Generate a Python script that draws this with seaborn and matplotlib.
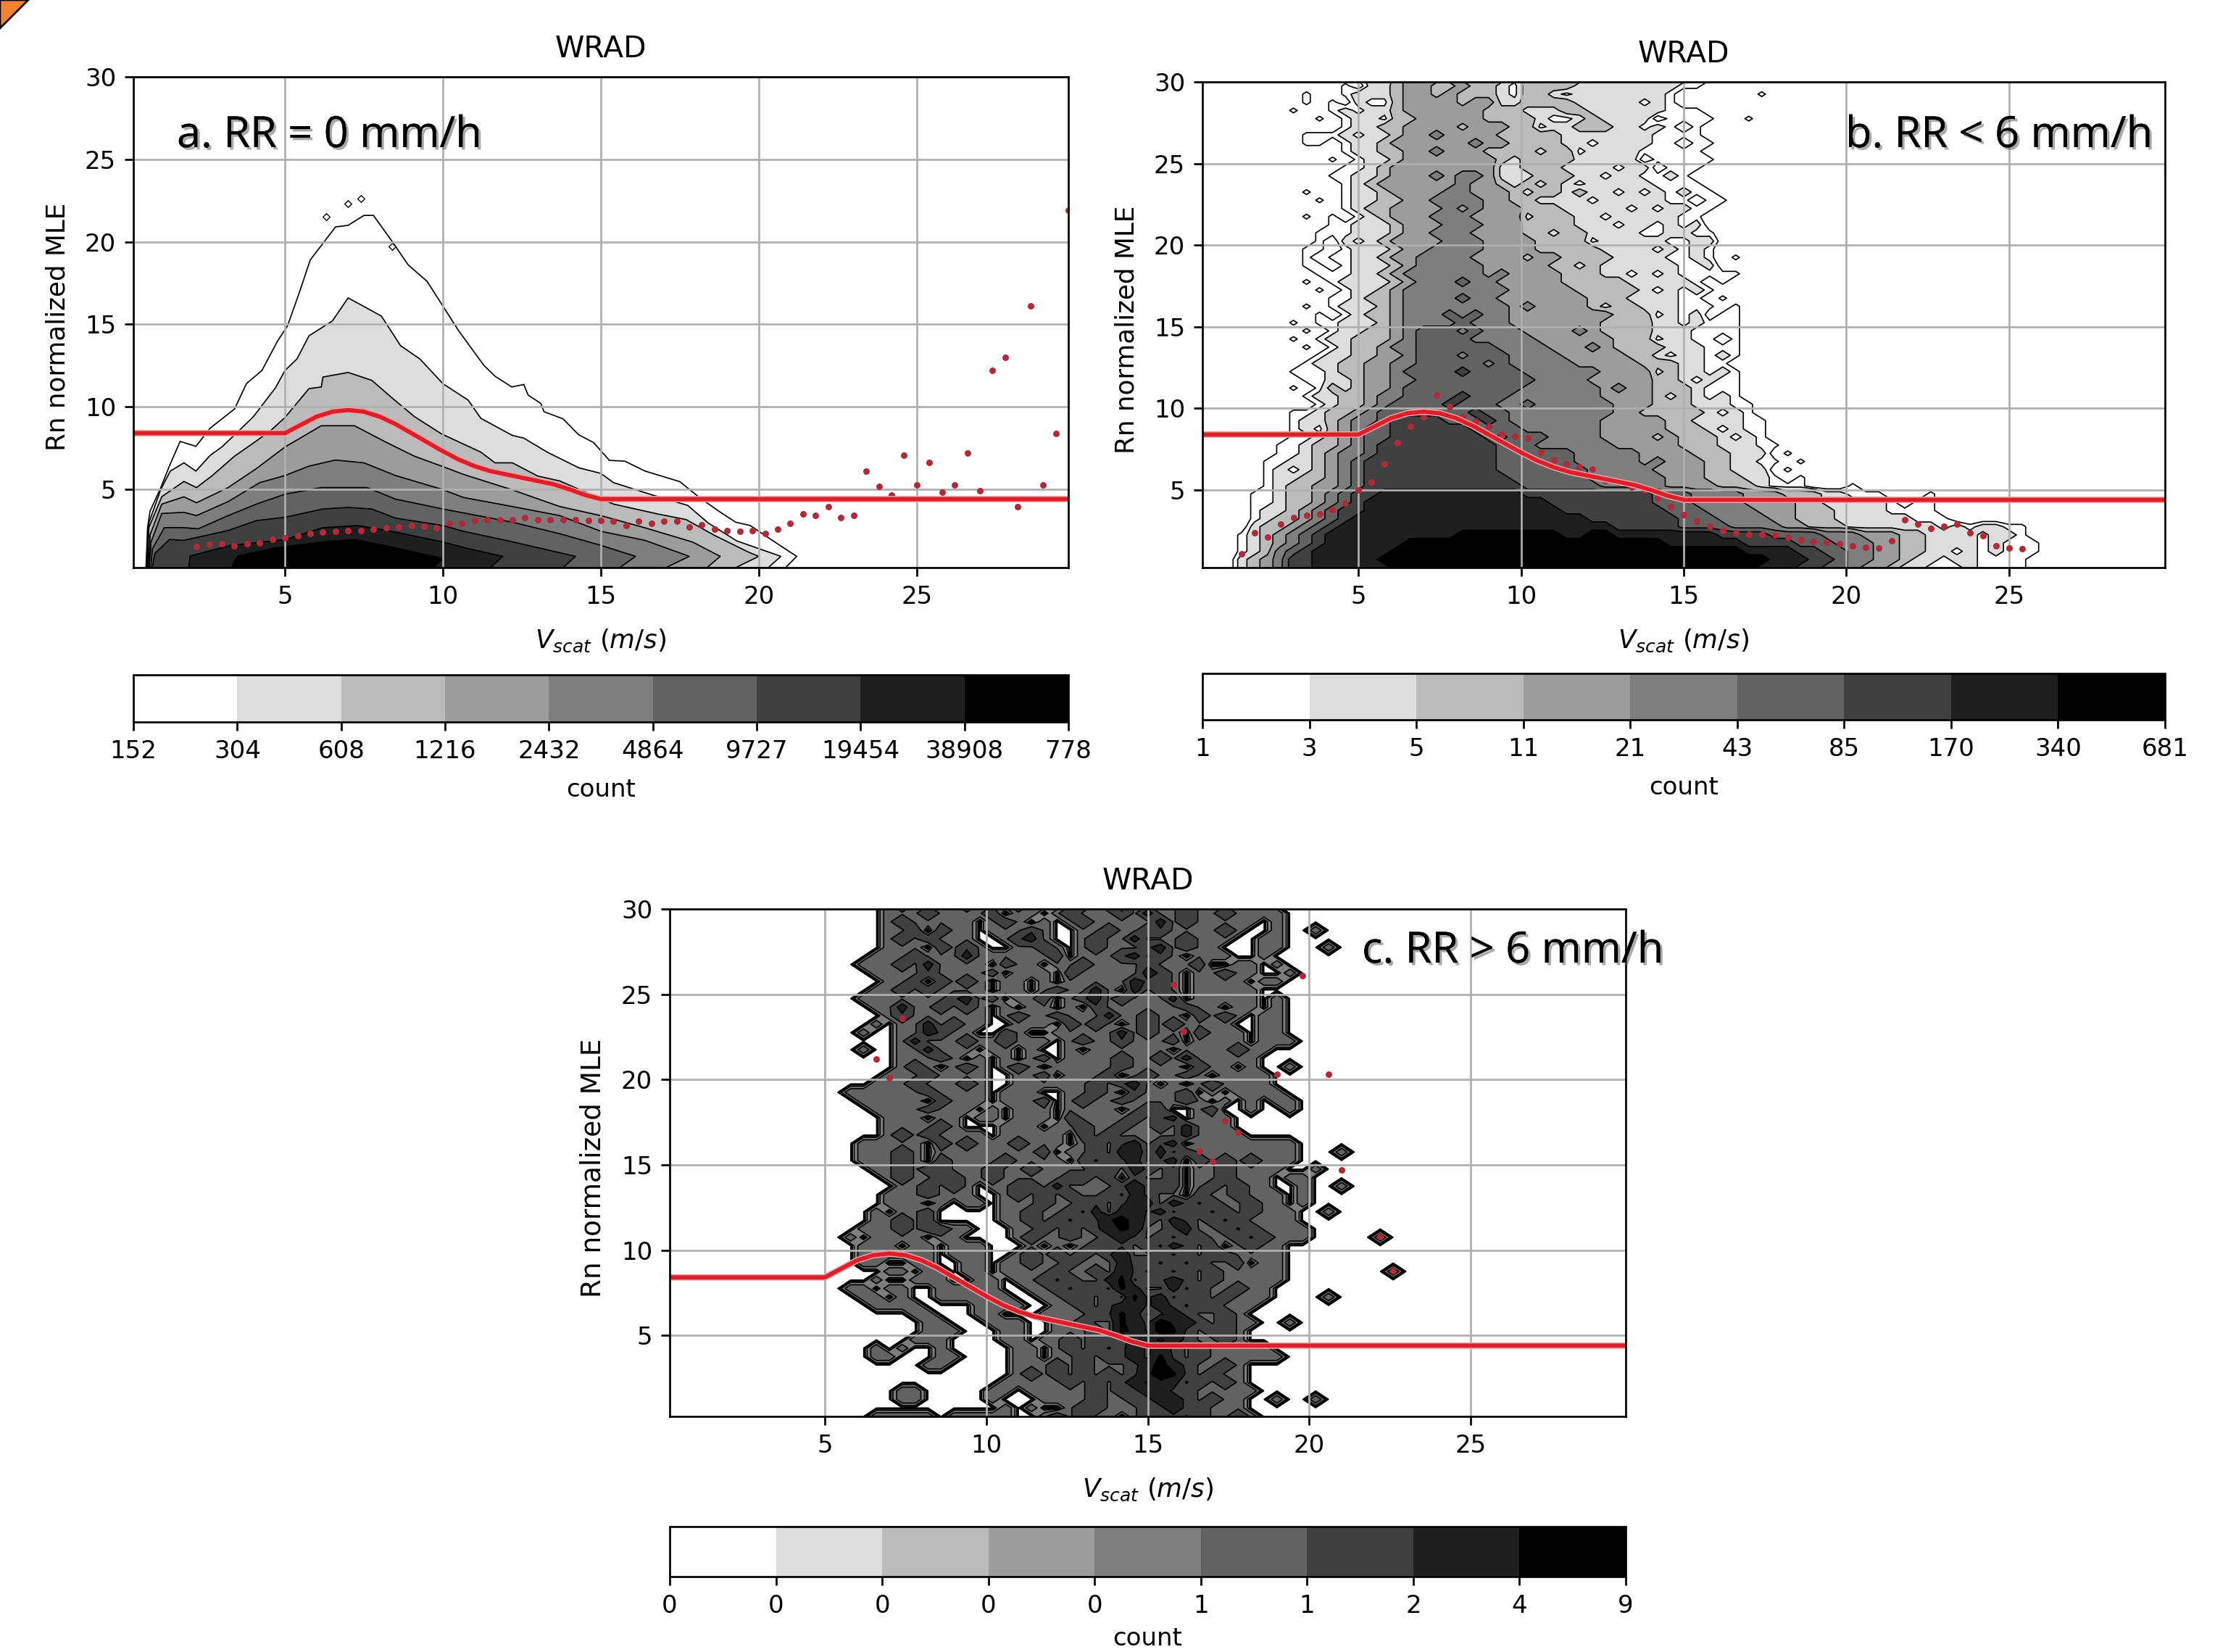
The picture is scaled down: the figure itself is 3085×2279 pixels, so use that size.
import numpy as np
import matplotlib
matplotlib.use("Agg")
import matplotlib.pyplot as plt
import matplotlib.patheffects as pe
from matplotlib.colors import ListedColormap, BoundaryNorm
from matplotlib.cm import ScalarMappable
from matplotlib.patches import Polygon
import seaborn as sns

W, H, DPI = 3085, 2279, 245

# ---------- data ----------
GREYS = ['#ffffff', '#dddddd', '#bbbbbb', '#9c9c9c', '#7e7e7e', '#626262', '#404040', '#1f1f1f', '#000000']
LEVELS_A = [152, 304, 608, 1216, 2432, 4864, 9727, 19454, 38908, 77816]
LABELS_A = ['152', '304', '608', '1216', '2432', '4864', '9727', '19454', '38908', '778']
LEVELS_B = [1.33, 2.66, 5.32, 10.6, 21.3, 42.6, 85.1, 170.2, 340.5, 681]
LABELS_B = ['1', '3', '5', '11', '21', '43', '85', '170', '340', '681']
LEVELS_C = [0.0176, 0.035, 0.07, 0.14, 0.28, 0.5625, 1.125, 2.25, 4.5, 9]
LABELS_C = ['0', '0', '0', '0', '0', '1', '1', '2', '4', '9']

CURVE_X = [0.2, 5, 5.5, 6, 6.5, 7, 7.5, 8, 8.5, 9, 9.5, 10, 10.5, 11, 11.5, 12, 12.5, 13, 13.5, 14, 14.5, 15, 29.8]
CURVE_Y = [8.4, 8.4, 8.9, 9.4, 9.7, 9.8, 9.7, 9.4, 8.95, 8.4, 7.85, 7.3, 6.8, 6.4, 6.1, 5.9, 5.7, 5.5, 5.3, 5.0, 4.65, 4.4, 4.4]

DOTS_A_X = [2.2, 2.6, 3, 3.4, 3.8, 4.2, 4.6, 5, 5.4, 5.8, 6.2, 6.6, 7, 7.4, 7.8, 8.2, 8.6, 9, 9.4, 9.8,
            10.2, 10.6, 11, 11.4, 11.8, 12.2, 12.6, 13, 13.4, 13.8, 14.2, 14.6, 15, 15.4, 15.8, 16.2, 16.6,
            17, 17.4, 17.8, 18.2, 18.6, 19, 19.4, 19.8, 20.2, 20.6, 21, 21.4, 21.8, 22.2, 22.6, 23, 23.4,
            23.8, 24.2, 24.6, 25, 25.4, 25.8, 26.2, 26.6, 27, 27.4, 27.8, 28.2, 28.6, 29, 29.4, 29.8]
DOTS_A_Y = [1.52, 1.67, 1.7, 1.56, 1.7, 1.74, 1.95, 2.03, 2.17, 2.3, 2.4, 2.46, 2.5, 2.5, 2.6, 2.67, 2.7, 2.78,
            2.75, 2.67, 2.95, 2.95, 3.1, 3.16, 3.16, 3.16, 3.3, 3.16, 3.16, 3.16, 3.16, 3.1, 3.1, 3.06, 2.8, 3.06,
            2.95, 3.06, 3.06, 2.73, 2.83, 2.6, 2.5, 2.45, 2.47, 2.3, 2.6, 2.95, 3.5, 3.4, 3.95, 3.3, 3.4, 6.1,
            5.15, 4.65, 7.05, 5.25, 6.6, 4.8, 5.25, 7.2, 4.9, 12.2, 13, 3.95, 16.1, 5.25, 8.4, 21.9]
DOTS_B_X = [1.4, 1.8, 2.2, 2.6, 3, 3.4, 3.8, 4.2, 4.6, 5, 5.4, 5.8, 6.2, 6.6, 7, 7.4, 7.8, 8.2, 8.6, 9, 9.4, 9.8,
            10.2, 10.6, 11, 11.4, 11.8, 12.2, 12.6, 13, 13.4, 13.8, 14.2, 14.6, 15, 15.4, 15.8, 16.2, 16.6, 17,
            17.4, 17.8, 18.2, 18.6, 19, 19.4, 19.8, 20.2, 20.6, 21, 21.4, 21.8, 22.2, 22.6, 23, 23.4, 23.8, 24.2,
            24.6, 25, 25.4]
DOTS_B_Y = [1.1, 2.4, 2.1, 2.9, 3.3, 3.45, 3.55, 3.8, 4.2, 5, 5.5, 6.6, 7.9, 8.9, 9.5, 10.8, 10.1, 9.5, 9.2, 8.9,
            8.4, 8.3, 8.2, 7.3, 6.8, 6.6, 6.4, 6.3, 5.6, 5.5, 5.2, 5, 4.5, 4, 3.5, 3.1, 2.8, 2.5, 2.4, 2.3, 2.3,
            2.25, 2.1, 1.95, 1.85, 1.8, 1.7, 1.6, 1.5, 1.45, 1.9, 3.2, 2.9, 2.65, 2.8, 2.9, 2.4, 2.2, 1.6, 1.45, 1.4]
DOTS_C_X = [6.6, 7.4, 7, 15.8, 16.1, 19, 20.6, 17.4, 17.8, 16.6, 17, 21, 19.8, 22.2, 22.6]
DOTS_C_Y = [21.2, 23.6, 20.1, 25.6, 22.8, 20.3, 20.3, 17.6, 16.9, 15.8, 15.2, 14.7, 26.1, 10.8, 8.8]

# panel a: outline of each count band (x, y)
A0_X = [0.6, 0.65, 0.73, 1.07, 1.34, 1.68, 2.18, 2.63, 3.4, 3.78, 4.27, 4.77, 5.08, 5.45, 5.8, 6.6, 7, 7.5, 7.8, 8.4, 8.9, 9.5, 10.1,
        10.5, 11.3, 11.65, 12.18, 12.56, 12.7, 13.1, 13.2, 13.8, 14.3, 14.77, 15.27, 15.76, 16.4, 17.5, 18.1, 18.74, 19.27, 19.73, 20.57, 21.2, 20.85]
A0_Y = [0.25, 2.67, 3.68, 5.1, 6.4, 7.9, 7.6, 8.7, 9.86, 11.4, 12.2, 14, 14.9, 16.9, 18.9, 20.9, 21, 21.6, 21.6, 20, 18.6, 17.6, 15.8,
        14.6, 12.5, 11.85, 11.2, 11.35, 10.7, 10.2, 9.7, 9.27, 8.3, 7.83, 6.75, 6.7, 6.1, 5.46, 4.53, 3.66, 3, 2.8, 1.72, 0.93, 0.25]
A1_X = [0.62, 0.69, 1.07, 1.37, 1.8, 2.18, 2.63, 3, 3.55, 4, 4.7, 5, 5.38, 5.76, 6.5, 7, 8.05, 8.66, 9.27, 10, 10.8, 11.2, 12.2, 12.56,
        13.3, 14.3, 15, 15.4, 16.6, 17.75, 18.4, 19.3, 20.7, 20.3]
A1_Y = [0.25, 2.96, 5, 6.1, 6.6, 6.1, 7.05, 7.56, 8.56, 9.4, 11.15, 12.2, 12.9, 14.3, 15.2, 16.6, 15.5, 13.7, 12.9, 11.4, 10.4, 9.3, 8.26, 8.1,
        7.25, 6.3, 5.96, 5.4, 4.67, 4.02, 2.95, 1.87, 0.93, 0.25]
A2_X = [0.65, 0.69, 1.1, 1.8, 2.2, 2.7, 3.4, 4, 4.55, 5, 5.76, 6.15, 6.2, 7, 7.75, 8.35, 9.1, 9.96, 11.2, 11.65, 12.2, 13, 13.7, 14.7,
        15.4, 16.8, 17.7, 18.6, 19.66, 20, 19.27]
A2_Y = [0.25, 2.67, 4.55, 5.47, 5.1, 5.83, 7, 7.8, 8.56, 9.35, 11.1, 11.2, 11.8, 12.08, 11.6, 10.6, 9.4, 8.35, 7.25, 6.6, 6.6, 5.8, 5.5, 4.67,
        4.1, 3.5, 3.16, 2.2, 1.2, 0.93, 0.25]
A3_X = [0.68, 0.73, 1.1, 1.8, 2.2, 3.2, 4.1, 5, 6.15, 7.2, 8.2, 9.1, 9.96, 10.65, 12.2, 13.7, 15, 16.4, 17.9, 18.78, 18.36]
A3_Y = [0.25, 2.24, 4.1, 4.54, 4.18, 5.1, 6.26, 7.56, 8.85, 8.85, 7.85, 7, 6.4, 5.9, 4.96, 3.95, 3.4, 2.66, 1.8, 0.93, 0.25]
A4_X = [0.7, 0.76, 1.1, 1.8, 2.2, 3.2, 4.2, 5, 5.76, 6.6, 7.5, 8.5, 9.96, 10.65, 12.2, 13.7, 15, 16.4, 17.8, 17.06]
A4_Y = [0.25, 1.8, 3.53, 3.6, 3.4, 4.25, 5.4, 5.83, 6.4, 6.77, 6.6, 5.83, 5, 4.5, 3.95, 3.4, 2.45, 1.9, 0.93, 0.25]
A5_X = [0.75, 0.8, 1.18, 1.8, 2.25, 3.2, 4.1, 5, 6.15, 7.6, 8.5, 10, 12.2, 13.7, 15, 16.1, 15.6]
A5_Y = [0.25, 1.38, 2.67, 2.67, 2.6, 3.4, 4.1, 4.7, 5.1, 5.1, 4.4, 3.8, 3, 2.3, 1.6, 0.93, 0.25]
A6_X = [0.8, 0.88, 1.34, 1.8, 3.2, 4.1, 5, 6.2, 7, 7.75, 8.5, 10, 10.65, 12, 14.2, 13.8]
A6_Y = [0.25, 1.1, 1.95, 1.9, 2.5, 3.1, 3.3, 3.8, 3.9, 3.8, 3.25, 2.8, 2.45, 1.9, 0.93, 0.25]
A7_X = [1.95, 2, 3.3, 5, 6.2, 7.3, 8.5, 10, 10.8, 11.9, 11.5]
A7_Y = [0.25, 0.95, 1.6, 1.95, 2.67, 2.8, 2.4, 1.8, 1.4, 0.93, 0.25]
A8_X = [3.3, 3.5, 4.7, 6.2, 7.2, 8.5, 10, 9.7]
A8_Y = [0.25, 0.95, 1.45, 1.8, 1.95, 1.45, 0.8, 0.25]
ISLANDS_A_X = [6.3, 7, 7.4, 8.4]
ISLANDS_A_Y = [21.5, 22.3, 22.6, 19.7]

# panel b: count band of each cell, top row first, first column x = 1.4 ('.' = no count)
GRID_B = """
..... ..0.0 10233 33223 21222 22211 11101 00...
..... ...0. 11233 22322 10222 21111 11110 0....
..... 0..01 11233 23222 10221 01111 1110. ..... 0....
..... 0.0.1 00233 33233 11222 21111 1010. ..... .....
....0 ..010 11233 33332 22111 22111 11100 0.... .....
..... .0.01 10223 33332 22210 01211 11.00 00..0 .....
..... ...01 12233 33233 32201 12221 1010. 0.... .....
..... 00010 11233 43333 22222 11111 11000 0.... .....
..... 00.01 12333 33343 32222 11011 1100. 00... .....
..... ...01 12233 43332 22212 20111 10000 0.... .....
..... ..0.0 11233 33333 21222 21111 1.000 00... .....
..... ...00 12333 33333 11222 11110 11.00 0.... .....
..... ..001 12333 43443 11122 21101 10010 ..... .....
..... ...01 23333 33433 21212 10111 11000 0.... .....
..... 0..01 12333 34433 32122 12110 10101 00... .....
..... .0.01 12233 44443 32211 11011 11100 .00.. .....
..... ...01 22333 34343 33222 11111 01011 00... .....
..... 0.0.0 12333 44433 33122 21101 11110 0.... .....
..... ..001 11233 34443 33222 21110 11010 1.... .....
..... .0001 11233 44433 33221 22111 10011 00... .....
..... .0.10 12333 34443 33322 22011 11100 11... .....
..... 00.01 11233 44443 33322 22211 11010 10... .....
..... 0.001 12334 44433 33233 22221 11100 10.0. .....
..... 00.01 11234 44443 33332 21211 11110 01... .....
..... .0001 12344 44443 43333 22211 01010 0000. .....
..... 0.011 11234 44544 33333 22222 11111 0.0.. .....
..... .0.01 12344 44444 43333 32222 21010 10... .....
..... ..001 22344 44544 33333 33222 11110 0.0.. .....
..... 0.011 12344 44444 43433 33212 21110 00.0. .....
..... .0.01 22344 45454 43333 33332 22010 1.00. .....
....0 .0011 12344 44544 43333 33322 22110 1000. .....
..... 0.011 22345 55454 44333 34322 22111 0000. .....
....0 .0112 22345 55544 44433 33332 22011 00.0. .....
..... 0.012 23445 55555 44443 33432 22211 1000. .....
..... .0112 23345 55455 54444 33333 22101 1010. .....
..... 01122 33445 55554 54444 43333 32221 100.. .....
....0 00122 33455 55655 55444 44433 33121 1010. .....
..... 00112 33445 55555 55544 44333 33221 0100. .....
....0 .0212 33455 55555 55444 44434 33222 1000. .....
..... 01122 34455 55655 54444 44433 33212 1010. .....
..... .0122 34555 56555 44544 44443 33222 11100 .....
....0 01223 45555 55565 54444 44443 32222 21010 .....
....0 11234 45666 65556 54444 44433 33322 11110 0....
....0 10234 55666 66655 55444 44433 33322 21010 0....
....0 01234 55666 66665 45554 44433 33232 22101 0....
...00 12234 56666 66666 55544 44443 33332 22111 00...
...00 12344 56666 66666 55555 54444 43333 22211 1.0..
..001 12345 66666 66666 55555 54444 43433 32211 00.0.
..010 12345 66666 66666 55555 55444 44333 32211 1.0..
..011 22345 66666 66666 65555 55444 44433 32221 10.0.
..012 23345 66666 66666 66555 55544 44433 33222 1000. ..0..
.0012 23456 67777 77777 77666 66666 66555 44443 33222 11000 ...0.
.0012 23456 77777 77777 77776 66666 66555 44443 33322 11111 0.00.
.0112 34566 77777 77777 77777 66666 66655 54444 33322 21111 0000.
.0122 34567 77777 77777 77777 77666 66665 55444 43322 21111 11000
.1223 45677 77777 77777 77777 77776 66665 55544 44332 22111 11110 10110 0
01234 56777 77777 77888 88888 77887 77777 77666 65555 44433 32211 11011 0
01234 56777 77788 88888 88888 88888 88877 77776 66655 54443 32211 11010 00
01245 67777 77888 88888 88888 88888 88888 88887 77766 55443 32211 01010 00
12346 67777 78888 88888 88888 88888 88888 88888 87776 65443 32110 11000 0
12346 67777 77888 88888 88888 88888 88888 88888 77766 55433 21100 01000 0
"""

# panel c: count in each cell, top row first, first column x = 5.4
GRID_C = """
00001 21111 21112 11012 12311 11211 11110 00000 00000
00001 11211 11201 10121 11213 11211 21111 00000 00000
00001 21111 10121 01012 11111 31211 11101 00000 00000
00001 12021 10111 21001 12112 21111 21001 00100 00000
00001 21211 10012 31001 21131 11211 10011 00000 00000
00001 11021 21001 12101 21112 31211 00011 00010 00000
00011 12111 31111 11201 11231 21011 10010 00000 00000
00111 21311 11021 10112 11112 11120 01101 00000 00000
00011 11211 11201 11021 11113 21011 21100 10000 00000
00001 12021 21011 01011 11132 21011 11011 00000 00000
00011 21211 11011 01211 31031 21011 11100 00000 00000
00111 11112 31201 12012 31211 13011 11101 00000 00000
00011 31121 21010 11010 21111 11211 01101 00000 00000
00001 21111 11012 11211 13112 11021 21011 00000 00000
00010 11312 11001 11021 21012 12111 10011 00000 00000
00100 11321 10021 00111 11312 11021 11011 00000 00000
00000 13111 21121 11012 11211 12011 11011 10000 00000
00100 11311 10110 10010 11111 10111 12110 00000 00000
00000 11121 01010 12011 11211 21311 11100 00000 00000
00000 12101 21012 10111 11211 11021 10100 10000 00000
00001 11211 11001 12011 12012 11210 11110 00000 00000
00011 12111 21001 11111 21231 01012 11110 00000 00000
01111 11211 11011 10011 21021 11201 01111 00000 00000
00111 11021 11011 12012 11211 11210 10101 10000 00000
00011 11211 10101 11011 11012 20012 00100 10000 00000
00001 11011 01101 11021 11121 23011 10000 00000 00000
00001 11121 00011 10112 11211 21311 10000 00000 00000
00001 21211 11011 11102 12111 11311 11000 00000 00000
00111 11021 21112 11101 21231 23011 11111 10000 00000
00111 21011 11111 12011 21341 31211 11111 10001 00000
00111 21021 11121 11102 12231 23021 21211 10000 00000
00011 21221 11211 21111 22132 12011 21111 00100 00000
00001 21122 11211 11122 12021 12011 21110 11000 00000
00000 11212 10112 21311 11232 22012 12110 01001 00000
00001 11211 10012 12121 12132 11021 12111 01000 00000
00001 11010 11011 12112 21233 13212 11211 01000 00000
00010 11200 00011 21121 31342 31221 21211 10010 00000
00011 21200 00011 21212 24632 13212 12111 10000 00000
00111 21221 10001 12121 23541 12311 21211 11000 00000
01011 11011 00001 21121 12321 21221 12121 11000 00100
00111 01101 11000 10101 22212 13212 01211 00000 00000
00111 11101 11001 21212 12411 21212 21111 00000 00000
00110 01100 11011 21121 11322 12121 12011 00000 00000
00001 10110 11011 11211 21421 21212 11111 00000 00010
00010 01110 01101 12121 13512 23212 11111 00000 00000
01101 10011 11100 11212 21531 13121 12110 00000 00000
00110 10011 11110 01122 12152 31221 21110 00010 00000
00011 11000 01111 00112 12342 32122 11100 00000 00000
00000 01100 01100 01111 22531 23211 21000 00000 00000
00000 00110 00111 00112 11532 64321 21100 10000 00000
00000 00111 00011 00111 21542 65212 21000 00000 00000
00000 01110 00011 01121 22143 23211 21000 00000 00000
00010 10010 00001 10121 21232 32121 11110 00000 00000
00011 00011 00001 10112 12232 52121 11111 00000 00000
00000 00110 00001 11212 11123 63211 21000 00000 00000
00000 00000 00001 21212 12124 65212 11000 00000 00000
00000 00000 00011 11121 21232 43121 21000 00000 00000
00000 11000 00110 11111 21223 32211 11100 00000 00000
00000 11000 00100 01111 21122 33212 11001 00100 00000
00000 00000 00010 10012 21112 23221 11000 00000 00000
00011 11101 11110 01212 11012 22121 12100 00000 00000
"""

TAGS = ['a. RR = 0 mm/h', 'b. RR < 6 mm/h', 'c. RR > 6 mm/h']
TITLE = 'WRAD'

# ---------- style ----------
sns.set_theme(style='ticks', rc={
    'font.size': 10, 'axes.labelsize': 10, 'axes.titlesize': 12,
    'xtick.labelsize': 10, 'ytick.labelsize': 10, 'axes.linewidth': 0.8,
    'xtick.major.width': 0.8, 'ytick.major.width': 0.8,
    'xtick.major.size': 3.5, 'ytick.major.size': 3.5,
    'axes.edgecolor': 'black', 'text.color': 'black', 'xtick.color': 'black',
    'ytick.color': 'black', 'axes.labelcolor': 'black',
    'grid.color': '#b0b0b0', 'grid.linewidth': 0.8, 'mathtext.fontset': 'dejavusans'})
plt.rcParams['font.family'] = ['DejaVu Sans']

fig = plt.figure(figsize=(W / DPI, H / DPI), dpi=DPI, facecolor='white')
cmap = ListedColormap(GREYS)


def box(left, top, right, bottom):
    return [left / W, 1 - bottom / H, (right - left) / W, (bottom - top) / H]


def parse(text, first_col, blank, value):
    rows = [r.replace(' ', '') for r in text.strip().splitlines()][::-1]
    grid = np.full((len(rows), 75), blank, dtype=float)
    for k, row in enumerate(rows):
        for j, ch in enumerate(row):
            if ch != '.' and first_col + j < 75:
                grid[k, first_col + j] = value(int(ch))
    return grid


def finish(ax, cax, levels, labels, dx, dy, tag, tag_pos, ylabel_size, count_pad):
    sns.lineplot(x=CURVE_X, y=CURVE_Y, color='#dc1f2d', linewidth=1.7, ax=ax, zorder=6, errorbar=None, sort=False,
                 path_effects=[pe.Stroke(linewidth=2.6, foreground='#f2a0a0'), pe.Normal()])
    sns.scatterplot(x=dx, y=dy, color='#b02a3c', s=7, linewidth=0, ax=ax, zorder=5)
    ax.set_xlim(0.2, 29.8)
    ax.set_ylim(0.25, 30)
    ax.set_xticks([5, 10, 15, 20, 25])
    ax.set_yticks([5, 10, 15, 20, 25, 30])
    ax.grid(True)
    ax.set_axisbelow(False)
    for s in ax.spines.values():
        s.set_zorder(10)
    ax.set_title(TITLE, pad=8)
    ax.set_xlabel(r'$V_{scat}\ (m/s)$', labelpad=7.5, fontsize=10.5)
    ax.set_ylabel('Rn normalized MLE', labelpad=6, fontsize=ylabel_size, y=0.49)
    norm = BoundaryNorm(levels, 9)
    cb = fig.colorbar(ScalarMappable(norm=norm, cmap=cmap), cax=cax, orientation='horizontal',
                      ticks=levels, spacing='uniform')
    cb.set_ticklabels(labels)
    cb.set_label('count', labelpad=count_pad)
    cb.minorticks_off()
    fig.text(tag_pos[0] / W, 1 - tag_pos[1] / H, tag, fontsize=17.5, family='Open Sans', va='center', ha='left',
             path_effects=[pe.withSimplePatchShadow(offset=(1, -1), shadow_rgbFace='#555555', alpha=0.5), pe.Normal()],
             zorder=20)


# panel a
ax_a = fig.add_axes(box(184, 106, 1474, 783))
cax_a = fig.add_axes(box(184, 931, 1474, 996))
OUTLINES_A = [(A0_X, A0_Y), (A1_X, A1_Y), (A2_X, A2_Y), (A3_X, A3_Y), (A4_X, A4_Y),
              (A5_X, A5_Y), (A6_X, A6_Y), (A7_X, A7_Y), (A8_X, A8_Y)]
for (ox, oy), col in zip(OUTLINES_A, GREYS):
    ax_a.fill(ox, oy, facecolor=col, edgecolor='black', linewidth=0.5, zorder=1.5)
sns.scatterplot(x=ISLANDS_A_X, y=ISLANDS_A_Y, marker='D', s=4, facecolor='white', edgecolor='black',
                linewidth=0.4, ax=ax_a, zorder=1.6)
finish(ax_a, cax_a, LEVELS_A, LABELS_A, DOTS_A_X, DOTS_A_Y, TAGS[0], (244, 187), 10.5, 6)

xs = 0.2 + 0.4 * np.arange(75)
ys = 0.25 + 0.5 * np.arange(61)

# panel b
ax_b = fig.add_axes(box(1659, 113, 2987, 783))
cax_b = fig.add_axes(box(1659, 929, 2987, 993))
Z_b = parse(GRID_B, 3, 0.0, lambda d: LEVELS_B[d] * 1.41)
ax_b.contourf(xs, ys, Z_b, levels=LEVELS_B, cmap=cmap, norm=BoundaryNorm(LEVELS_B, 9), zorder=1.5)
ax_b.contour(xs, ys, Z_b, levels=LEVELS_B[:-1], colors='black', linewidths=0.5, zorder=1.6)
finish(ax_b, cax_b, LEVELS_B, LABELS_B, DOTS_B_X, DOTS_B_Y, TAGS[1], (2546, 187), 10.5, 6)

# panel c
ax_c = fig.add_axes(box(924, 1254, 2243, 1954))
cax_c = fig.add_axes(box(924, 2106, 2243, 2175))
Z_c = parse(GRID_C, 13, 0.0, float)
ax_c.contourf(xs, ys, Z_c, levels=LEVELS_C, cmap=cmap, norm=BoundaryNorm(LEVELS_C, 9), zorder=1.5)
ax_c.contour(xs, ys, Z_c, levels=LEVELS_C[:-1], colors='black', linewidths=0.5, zorder=1.6)
finish(ax_c, cax_c, LEVELS_C, LABELS_C, DOTS_C_X, DOTS_C_Y, TAGS[2], (1879, 1312), 11, 3.5)

# orange page corner
fig.add_artist(Polygon([[0, 1], [39 / W, 1], [0, 1 - 39 / H]], closed=True, facecolor='#f58233',
                       edgecolor='black', linewidth=0.8, transform=fig.transFigure))

fig.savefig('out.png', dpi=DPI, facecolor='white')
